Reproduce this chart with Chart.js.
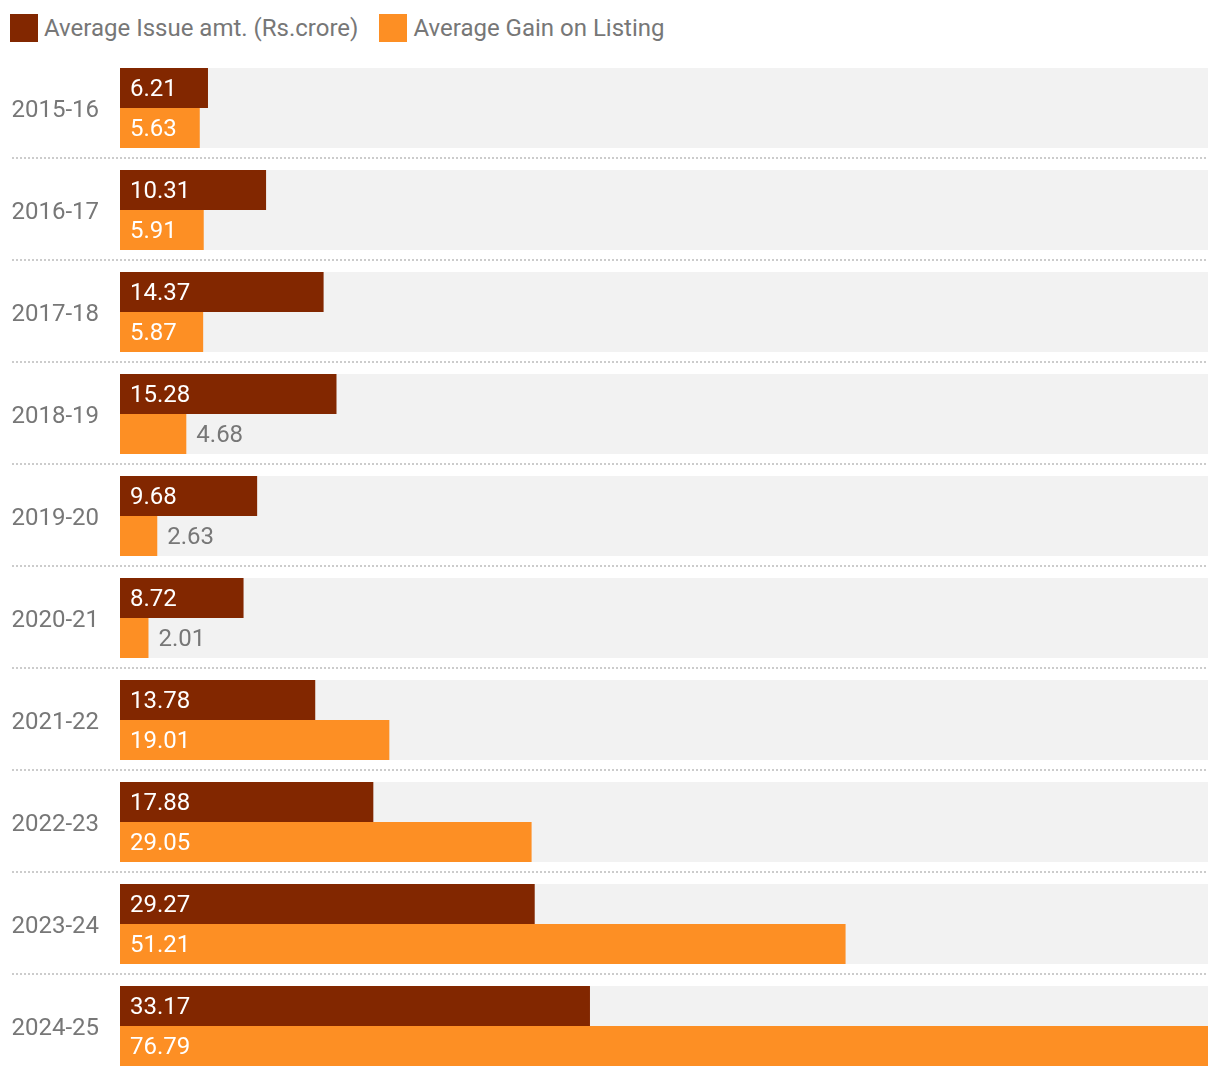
<!DOCTYPE html>
<html>
<head>
<meta charset="utf-8">
<script src="https://cdn.jsdelivr.net/npm/chart.js@4"></script>
<style>
    body { margin: 0; background: #fff; font-family: Roboto, sans-serif; }
    #wrap { position: relative; width: 1220px; height: 1078px; }
    #legend { position: absolute; left: 10px; top: 14px; display: flex; font-size: 24px; color: #777; }
    .item { display: flex; align-items: center; height: 28px; margin-right: 21px; }
    .box { width: 28px; height: 28px; margin-right: 6px; }
    canvas { position: absolute; left: 0; top: 0; }
</style>
</head>
<body>
<div id="wrap">
    <div id="legend"></div>
    <canvas id="chart" width="1220" height="1078"></canvas>
</div>
<script>
const years = ['2015-16', '2016-17', '2017-18', '2018-19', '2019-20', '2020-21', '2021-22', '2022-23', '2023-24', '2024-25'];
const issueAmt = [6.21, 10.31, 14.37, 15.28, 9.68, 8.72, 13.78, 17.88, 29.27, 33.17];
const listingGain = [5.63, 5.91, 5.87, 4.68, 2.63, 2.01, 19.01, 29.05, 51.21, 76.79];
const seriesNames = ['Average Issue amt. (Rs.crore)', 'Average Gain on Listing'];
const seriesColors = ['#822700', '#fd8f24'];

const FONT = '24px Roboto, sans-serif';

// grey band behind each group + dotted separators
const backdropPlugin = {
    id: 'backdrop',
    beforeDatasetsDraw(chart) {
        const ctx = chart.ctx;
        const area = chart.chartArea;
        const yScale = chart.scales.y;
        const top = chart.getDatasetMeta(0).data;
        const bottom = chart.getDatasetMeta(1).data;
        ctx.save();
        ctx.fillStyle = '#f2f2f2';
        top.forEach((bar, i) => {
            const y1 = bar.y - bar.height / 2;
            const y2 = bottom[i].y + bottom[i].height / 2;
            ctx.fillRect(area.left, y1, area.right - area.left, y2 - y1);
        });
        ctx.strokeStyle = '#cccccc';
        ctx.lineWidth = 2;
        ctx.setLineDash([2, 2]);
        for (let i = 0; i < years.length - 1; i++) {
            const y = Math.round((yScale.getPixelForValue(i) + yScale.getPixelForValue(i + 1)) / 2) - 1;
            ctx.beginPath();
            ctx.moveTo(12, y);
            ctx.lineTo(area.right, y);
            ctx.stroke();
        }
        ctx.restore();
    }
};

// value labels inside the bar, or just after it when it does not fit
const valueLabels = {
    id: 'valueLabels',
    afterDatasetsDraw(chart) {
        const ctx = chart.ctx;
        ctx.save();
        ctx.font = FONT;
        ctx.textBaseline = 'middle';
        ctx.textAlign = 'left';
        chart.data.datasets.forEach((ds, di) => {
            chart.getDatasetMeta(di).data.forEach((bar, i) => {
                const txt = ds.data[i].toFixed(2);
                const w = ctx.measureText(txt).width;
                const barW = bar.x - bar.base;
                if (w + 20 <= barW) {
                    ctx.fillStyle = '#ffffff';
                    ctx.fillText(txt, bar.base + 10, bar.y + 2);
                } else {
                    ctx.fillStyle = '#777777';
                    ctx.fillText(txt, bar.x + 10, bar.y + 2);
                }
            });
        });
        ctx.restore();
    }
};

const legendEl = document.getElementById('legend');
seriesNames.forEach((name, i) => {
    const item = document.createElement('div');
    item.className = 'item';
    item.innerHTML = '<div class="box" style="background:' + seriesColors[i] + '"></div><span>' + name + '</span>';
    legendEl.appendChild(item);
});

new Chart(document.getElementById('chart'), {
    type: 'bar',
    data: {
        labels: years,
        datasets: [
            { label: seriesNames[0], data: issueAmt, backgroundColor: seriesColors[0] },
            { label: seriesNames[1], data: listingGain, backgroundColor: seriesColors[1] }
        ]
    },
    options: {
        indexAxis: 'y',
        responsive: false,
        animation: false,
        layout: { padding: { top: 57, bottom: 1, right: 12, left: 0 } },
        datasets: {
            bar: { categoryPercentage: 80 / 102, barPercentage: 1, borderWidth: 0 }
        },
        scales: {
            x: {
                display: false,
                min: 0,
                max: Math.max(...issueAmt, ...listingGain)
            },
            y: {
                grid: { display: false, drawTicks: false },
                border: { display: false },
                ticks: { color: '#777', font: { family: 'Roboto', size: 24 }, padding: 21, labelOffset: 2.5 },
                afterFit(scale) {
                    scale.width = 120;
                    // labels sit inside their slots, no extra room needed
                    scale.paddingTop = 0;
                    scale.paddingBottom = 0;
                }
            }
        },
        plugins: {
            legend: { display: false },
            tooltip: { enabled: false }
        }
    },
    plugins: [backdropPlugin, valueLabels]
});
</script>
</body>
</html>
